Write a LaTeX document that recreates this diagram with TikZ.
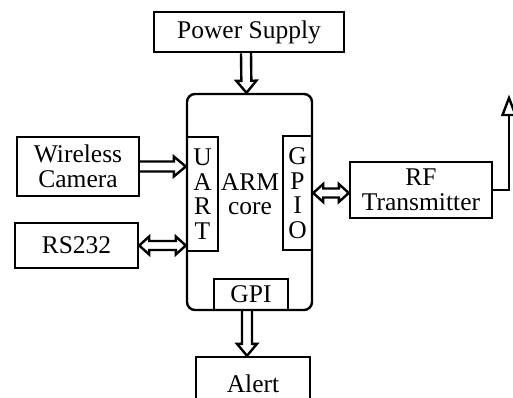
\documentclass[tikz,border=0pt]{standalone}
\usepackage{fontspec}
\setmainfont{Liberation Serif}
\usetikzlibrary{calc}

% Hollow one-way block arrow from #1 to #2
\newcommand{\blockarrow}[2]{%
  \coordinate (ba-s) at (#1);
  \coordinate (ba-e) at (#2);
  \coordinate (ba-h) at ($(ba-e)!12pt!(ba-s)$);
  \draw[flow] ($(ba-s)!5pt!90:(ba-e)$) -- ($(ba-h)!5pt!-90:(ba-s)$)
    -- ($(ba-h)!10pt!-90:(ba-s)$) -- (ba-e) -- ($(ba-h)!10pt!90:(ba-s)$)
    -- ($(ba-h)!5pt!90:(ba-s)$) -- ($(ba-s)!5pt!-90:(ba-e)$);
}
% Hollow two-way block arrow between #1 and #2
\newcommand{\blockboth}[2]{%
  \coordinate (bb-s) at (#1);
  \coordinate (bb-e) at (#2);
  \coordinate (bb-a) at ($(bb-s)!10pt!(bb-e)$);
  \coordinate (bb-b) at ($(bb-e)!10pt!(bb-s)$);
  \draw[flow] (bb-s) -- ($(bb-a)!9pt!90:(bb-e)$) -- ($(bb-a)!4.5pt!90:(bb-e)$)
    -- ($(bb-b)!4.5pt!-90:(bb-s)$) -- ($(bb-b)!9pt!-90:(bb-s)$) -- (bb-e)
    -- ($(bb-b)!9pt!90:(bb-s)$) -- ($(bb-b)!4.5pt!90:(bb-s)$)
    -- ($(bb-a)!4.5pt!-90:(bb-e)$) -- ($(bb-a)!9pt!-90:(bb-e)$) -- cycle;
}

\begin{document}
\begin{tikzpicture}[x=1pt,y=-1pt,
  box/.style={draw,line width=2.4pt,inner sep=0pt,align=center,
    font=\fontsize{25.5}{24.5}\selectfont},
  flow/.style={draw,line width=2.4pt,line join=miter},
  wire/.style={draw,line width=2.4pt,line join=miter}]
\useasboundingbox (0,0) rectangle (513,398);
\clip (0,0) rectangle (513,398);

% blocks
\node[box,minimum width=190pt,minimum height=40pt] (ps) at (249,32) {Power Supply};
\node[box,rounded corners=8pt,minimum width=125pt,minimum height=216pt] (arm) at (249.5,202) {};
\node[box,minimum width=31pt,minimum height=114pt] (uart) at (202.5,194) {U\\A\\R\\T};
\node[box,minimum width=29pt,minimum height=114pt] (gpio) at (297.5,193) {G\\P\\I\\O};
\node[box,minimum width=74pt,minimum height=31pt] (gpi) at (251,294.5) {GPI};
\node[box,draw=none] (core) at (250,194) {ARM\\core};
\node[box,minimum width=122pt,minimum height=59pt] (cam) at (78,166.5) {Wireless\\Camera};
\node[box,minimum width=123pt,minimum height=45pt] (rs) at (76.5,245.5) {RS232};
\node[box,minimum width=142pt,minimum height=56pt] (rf) at (421,190) {RF\\Transmitter};
\node[box,minimum width=114pt,minimum height=54pt] (alert) at (253,384) {Alert};

% connections
\blockarrow{$(ps.south)+(-3,0)$}{$(arm.north)+(-3,0)$}
\blockarrow{cam.east}{uart.west |- cam.east}
\blockboth{rs.east}{uart.west |- rs.east}
\blockboth{$(gpio.east |- rf.west)+(0,3)$}{$(rf.west)+(0,3)$}
\blockarrow{$(gpi.south)+(-4,0)$}{$(gpi.south |- alert.north)+(-4,0)$}

% antenna mast with open triangular tip
\coordinate (ant) at (509,98);
\coordinate (antbase) at (509,115);
\draw[wire] (rf.east) -- (antbase |- rf.east) -- (antbase);
\draw[wire] ($(antbase)+(-6.5,0)$) -- (ant) -- ($(antbase)+(6.5,0)$) -- cycle;
\end{tikzpicture}
\end{document}
